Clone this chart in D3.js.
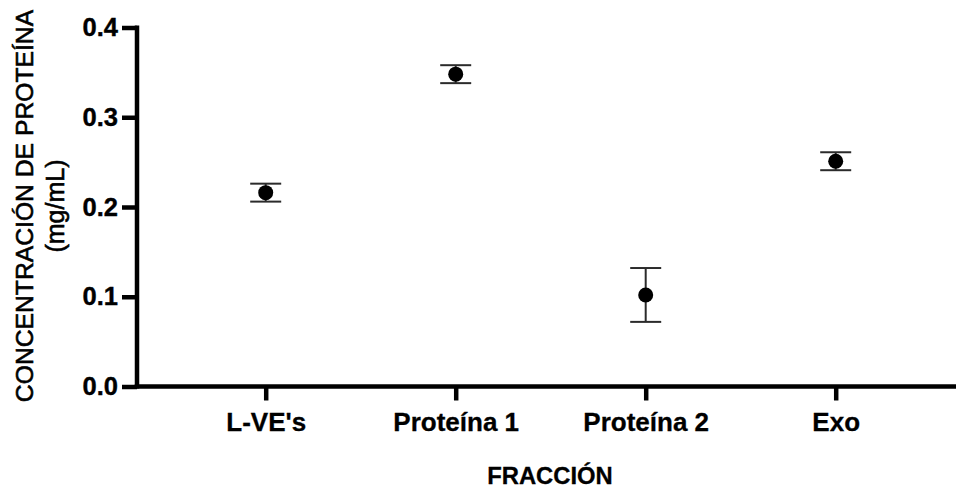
<!DOCTYPE html>
<html>
<head>
<meta charset="utf-8">
<script src="https://cdn.jsdelivr.net/npm/d3@7"></script>
<style>
  html, body {margin: 0; padding: 0; background: #ffffff;}
  svg {display: block; font-family: 'Liberation Sans', Arial, sans-serif;}
</style>
</head>
<body>
<script>
// Data.
const categories = ["L-VE's", 'Proteína 1', 'Proteína 2', 'Exo'];
const means = [0.216, 0.348, 0.102, 0.251];
const errors = [0.010, 0.010, 0.030, 0.010];
const yTicks = [0.0, 0.1, 0.2, 0.3, 0.4];

const pallette = {height: 489, width: 956};
const graphPositions = {top: 27.5, bottom: 386.5, left: 137, right: 956};

const svg = d3.select('body')
      .append('svg')
      .attr('width', pallette.width)
      .attr('height', pallette.height);

// Scales.
const x = d3.scalePoint()
      .domain(categories)
      .range([265.7, 835.7]);

const y = d3.scaleLinear()
      .domain([0, 0.4])
      .range([graphPositions.bottom, graphPositions.top]);

// Y axis.
const yAxis = d3.axisLeft(y)
      .tickValues(yTicks)
      .tickFormat(d3.format('.1f'))
      .tickSize(15)
      .tickSizeOuter(0)
      .tickPadding(4);

const yAxisG = svg.append('g')
      .attr('transform', 'translate(' + graphPositions.left + ',0)')
      .call(yAxis);

yAxisG.select('.domain').remove();
yAxisG.append('line')
  .attr('x1', 0).attr('x2', 0)
  .attr('y1', graphPositions.bottom + 2)
  .attr('y2', graphPositions.top - 2)
  .attr('stroke', '#000')
  .attr('stroke-width', 4.5);
yAxisG.selectAll('.tick line')
  .attr('stroke', '#000')
  .attr('stroke-width', 4.5);
yAxisG.selectAll('.tick text')
  .attr('fill', '#000')
  .attr('stroke', '#000')
  .attr('stroke-width', 0.4)
  .style('font-size', '25.5px')
  .style('font-weight', 'bold');

// X axis.
const xAxis = d3.axisBottom(x)
      .tickSize(14)
      .tickSizeOuter(0)
      .tickPadding(12);

const xAxisG = svg.append('g')
      .attr('transform', 'translate(0,' + graphPositions.bottom + ')')
      .call(xAxis);

xAxisG.select('.domain').remove();
xAxisG.append('line')
  .attr('x1', graphPositions.left - 2.25)
  .attr('x2', graphPositions.right)
  .attr('y1', 0).attr('y2', 0)
  .attr('stroke', '#000')
  .attr('stroke-width', 4.5);
xAxisG.selectAll('.tick line')
  .attr('stroke', '#000')
  .attr('stroke-width', 4.5);
xAxisG.selectAll('.tick text')
  .attr('fill', '#000')
  .attr('stroke', '#000')
  .attr('stroke-width', 0.3)
  .style('font-size', '26px')
  .style('font-weight', 'bold');

// Axis titles.
svg.append('text')
  .attr('x', 550)
  .attr('y', 484)
  .attr('text-anchor', 'middle')
  .attr('stroke', '#000')
  .attr('stroke-width', 0.3)
  .style('font-size', '23.8px')
  .style('font-weight', 'bold')
  .text('FRACCIÓN');

svg.append('text')
  .attr('transform', 'translate(33,206) rotate(-90)')
  .attr('text-anchor', 'middle')
  .attr('stroke', '#000')
  .attr('stroke-width', 0.6)
  .style('font-size', '24.7px')
  .text('CONCENTRACIÓN DE PROTEÍNA');

svg.append('text')
  .attr('transform', 'translate(63.5,206) rotate(-90)')
  .attr('text-anchor', 'middle')
  .attr('stroke', '#000')
  .attr('stroke-width', 0.6)
  .style('font-size', '25px')
  .text('(mg/mL)');

// Error bars and points.
const rows = categories.map((c, i) => ({name: c, mean: means[i], err: errors[i]}));
const capHalf = 15.5;

const marks = svg.selectAll('g.mark')
      .data(rows)
      .enter()
      .append('g')
      .attr('class', 'mark');

marks.append('line')
  .attr('x1', (d) => x(d.name))
  .attr('x2', (d) => x(d.name))
  .attr('y1', (d) => y(d.mean + d.err))
  .attr('y2', (d) => y(d.mean - d.err))
  .attr('stroke', '#2b2b2b')
  .attr('stroke-width', 2);

[1, -1].forEach((s) =>
  {
    marks.append('line')
      .attr('x1', (d) => x(d.name) - capHalf)
      .attr('x2', (d) => x(d.name) + capHalf)
      .attr('y1', (d) => y(d.mean + s * d.err))
      .attr('y2', (d) => y(d.mean + s * d.err))
      .attr('stroke', '#2b2b2b')
      .attr('stroke-width', 2);
  });

marks.append('circle')
  .attr('cx', (d) => x(d.name))
  .attr('cy', (d) => y(d.mean))
  .attr('r', 7.5)
  .attr('fill', '#000');
</script>
</body>
</html>
